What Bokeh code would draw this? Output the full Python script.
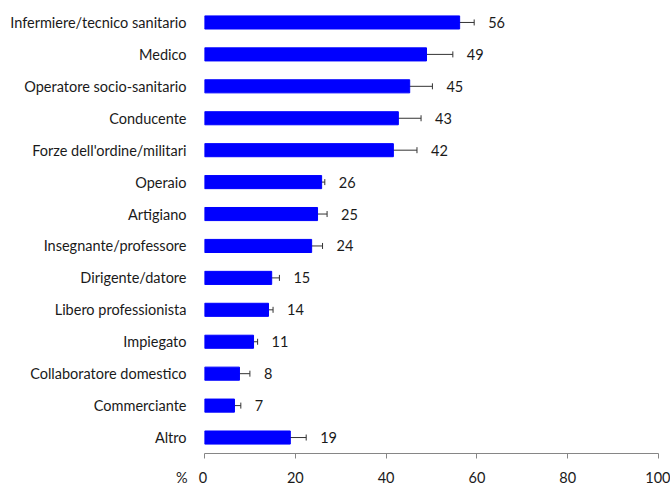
from bokeh.plotting import figure
from bokeh.models import ColumnDataSource, FactorRange, Whisker, LabelSet, FixedTicker, TeeHead
from bokeh.core.properties import value
from bokeh.embed import file_html
from bokeh.resources import INLINE

categories = ["Infermiere/tecnico sanitario", "Medico", "Operatore socio-sanitario", "Conducente",
              "Forze dell'ordine/militari", "Operaio", "Artigiano", "Insegnante/professore",
              "Dirigente/datore", "Libero professionista", "Impiegato", "Collaboratore domestico",
              "Commerciante", "Altro"]
values = [56.2, 48.9, 45.2, 42.7, 41.6, 25.8, 24.9, 23.6, 14.8, 14.1, 10.8, 7.7, 6.6, 18.9]
lower = [52.9, 43.2, 40.6, 37.9, 36.6, 25.1, 23.3, 21.4, 13.3, 13.1, 10.6, 6.2, 5.6, 15.9]
upper = [59.4, 54.7, 50.2, 47.7, 46.8, 26.5, 27.0, 26.0, 16.5, 15.1, 11.7, 10.0, 8.0, 22.4]
value_labels = ["56", "49", "45", "43", "42", "26", "25", "24", "15", "14", "11", "8", "7", "19"]
x_ticks = [0, 20, 40, 60, 80, 100]
x_unit = "%"

FONT = "Lato"
FS = "14.5px"
TXT = "#1a1a1a"
NB = "\u00a0"

src = ColumnDataSource(dict(cat=categories, val=values, lo=lower, hi=upper, lab=value_labels))

p = figure(y_range=FactorRange(factors=list(reversed(categories))), x_range=(0, 100),
           frame_width=454, frame_height=447, min_border_left=204, min_border_right=12,
           min_border_top=6, min_border_bottom=0,
           output_backend="svg", toolbar_location=None)
p.width = 670
p.height = 485

p.hbar(y="cat", right="val", left=0, height=0.41, color="#0000FF", source=src)

w = Whisker(base="cat", lower="lo", upper="hi", dimension="width", source=src,
            line_color="#333333", line_width=1)
w.lower_head = TeeHead(size=6, line_color="#333333", line_width=1)
w.upper_head = TeeHead(size=6, line_color="#333333", line_width=1)
p.add_layout(w)

labels = LabelSet(x="hi", y="cat", text="lab", source=src, x_offset=14,
                  text_baseline="middle", text_font=value(FONT), text_font_size=value(FS),
                  text_color=TXT)
p.add_layout(labels)

p.outline_line_color = None
p.grid.grid_line_color = None
p.background_fill_color = "white"
p.border_fill_color = "white"

xa = p.xaxis[0]
xa.ticker = FixedTicker(ticks=x_ticks)
# the "%" unit sits left of the 0 tick label, on the same row
xa.major_label_overrides = {0: x_unit + NB * 3 + "0" + NB * 7}
xa.axis_line_color = "#868686"
xa.major_tick_line_color = "#868686"
xa.major_tick_out = 5
xa.major_tick_in = 0
xa.minor_tick_line_color = None
xa.major_label_text_font = FONT
xa.major_label_text_font_size = FS
xa.major_label_text_color = TXT
xa.major_label_standoff = 10

ya = p.yaxis[0]
ya.axis_line_color = None
ya.major_tick_line_color = None
ya.minor_tick_line_color = None
ya.major_label_text_font = FONT
ya.major_label_text_font_size = FS
ya.major_label_text_color = TXT
ya.major_label_standoff = 12

open("out.html", "w").write(file_html(p, INLINE))
